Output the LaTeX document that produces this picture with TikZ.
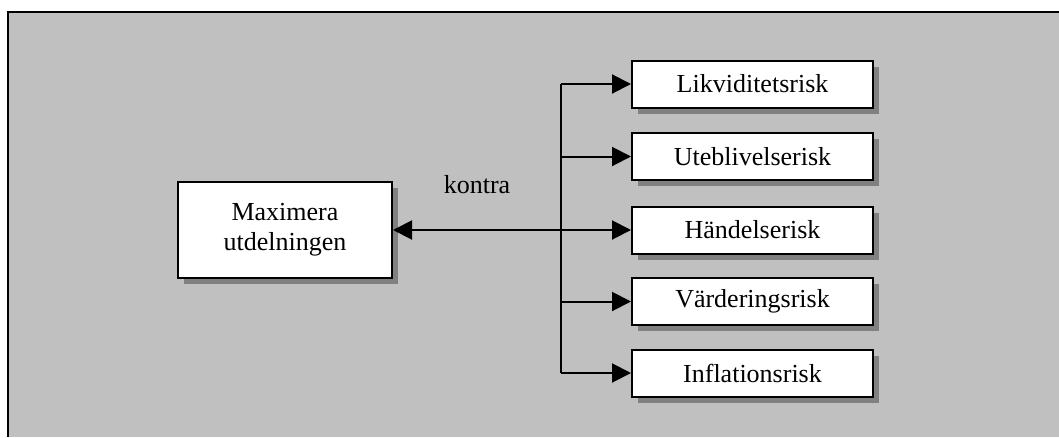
\documentclass[tikz,border=0pt]{standalone}
\usepackage{fontspec}
\setmainfont{Liberation Serif}
\usepackage{tikz}
\usetikzlibrary{positioning,shadows}
\usetikzlibrary{arrows.meta}
\definecolor{panelgray}{RGB}{192,192,192}
\definecolor{shadowgray}{RGB}{128,128,128}
\tikzset{
    riskbox/.style={
        draw=black,
        line width=2pt,
        fill=white,
        minimum width=241pt,
        minimum height=47pt,
        font=\fontsize{26}{30}\selectfont,
        general shadow={fill=shadowgray, shadow xshift=6pt, shadow yshift=-6pt}
    },
    % pil med fylld triangel
    blackarrow/.style={
        line width=2pt,
        black,
        >={Triangle[length=19pt, width=19pt]}
    }
}

\begin{document}
\begin{tikzpicture}[x=1pt,y=-1pt]
    \useasboundingbox (0,0) rectangle (1059,437);

    % bakgrund
    \fill[panelgray] (8,12) rectangle (1059,437);
    \draw[line width=2.5pt] (8,437) -- (8,12) -- (1059,12);

    % rutor
    \node[riskbox, minimum width=214pt, minimum height=96pt, align=center] (max) at (285,230) {Maximera\\utdelningen};

    \node[riskbox] (likv) at (752.5,84) {Likviditetsrisk};
    \node[riskbox] (uteb) at (752.5,156.5) {Uteblivelserisk};
    \node[riskbox] (hand) at (752.5,230) {Händelserisk};
    \node[riskbox] (vard) at (752.5,301.5) {Värderingsrisk};
    \node[riskbox] (infl) at (752.5,373) {Inflationsrisk};

    \coordinate (split) at (561,230);

    % pilar
    \draw[blackarrow,<->] (max.east) -- (hand.west);
    \draw[blackarrow] (split |- likv.west) -- (split |- infl.west);
    \foreach \n in {likv,uteb,vard,infl}
        \draw[blackarrow,->] (split |- \n.west) -- (\n.west);

    \node[anchor=base, font=\fontsize{26}{30}\selectfont] (kontra) at (477,193) {kontra};
\end{tikzpicture}
\end{document}
